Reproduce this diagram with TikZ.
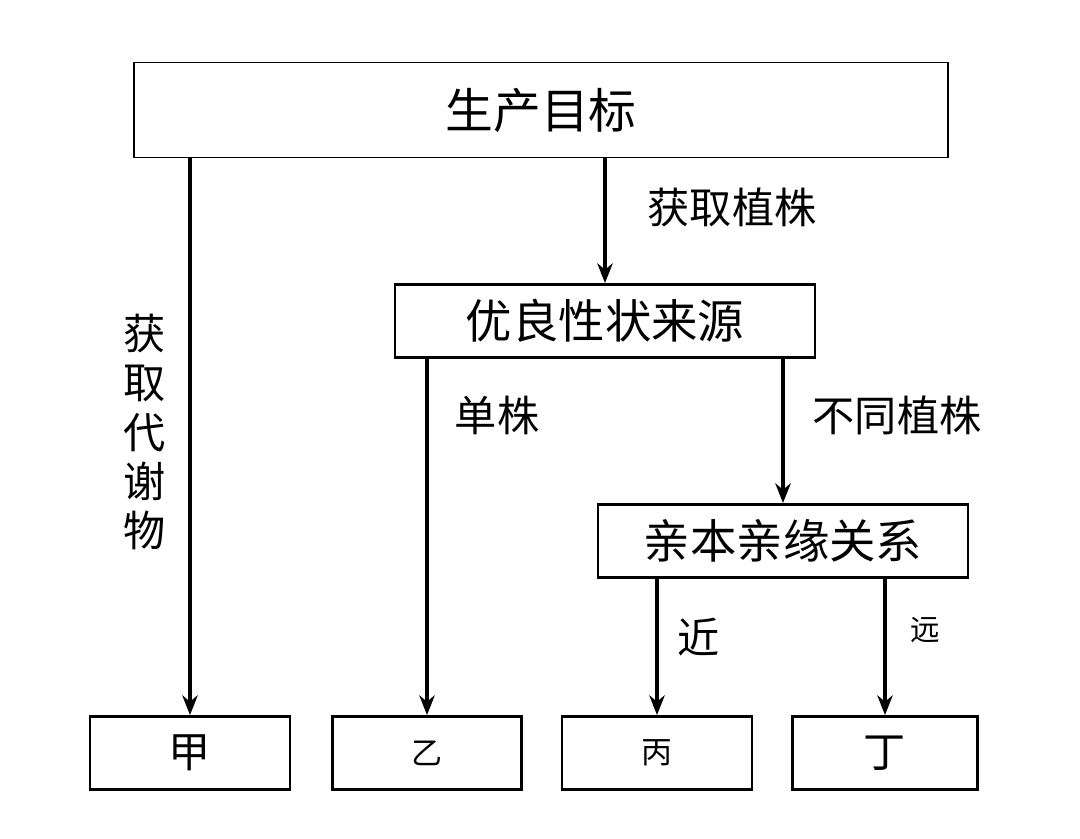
\documentclass[tikz,border=0pt]{standalone}
\usepackage{fontspec}
\setmainfont{Noto Sans CJK SC}
\usetikzlibrary{arrows.meta}

\tikzset{
  box/.style={draw, line width=2pt, inner sep=0pt, font=\fontsize{33}{36}\selectfont},
  lbl/.style={font=\fontsize{30}{35}\selectfont, inner sep=0pt},
  arr/.style={line width=2.2pt, -{Stealth[length=14pt, width=11pt]}},
}

\begin{document}
\begin{tikzpicture}[x=0.025cm, y=-0.025cm]
  \useasboundingbox (0,0) rectangle (1080,838);

  % boxes
  \node[box, line width=1.2pt, minimum width=20.33cm, minimum height=2.38cm,
        font=\fontsize{34}{36}\selectfont] (top) at (541,110) {生产目标};
  \node[box, minimum width=10.5cm, minimum height=1.83cm] (you) at (605,321) {优良性状来源};
  \node[box, minimum width=9.25cm, minimum height=1.83cm] (qin) at (783,541) {亲本亲缘关系};
  \node[box, minimum width=5cm, minimum height=1.83cm, font=\fontsize{30}{32}\selectfont] (jia) at (190,753) {甲};
  \node[box, minimum width=4.73cm, minimum height=1.83cm, font=\fontsize{22}{24}\selectfont] (yi) at (427,753) {乙};
  \node[box, minimum width=4.75cm, minimum height=1.83cm, font=\fontsize{22}{24}\selectfont] (bing) at (657,753) {丙};
  \node[box, minimum width=4.63cm, minimum height=1.83cm, font=\fontsize{30}{32}\selectfont] (ding) at (885,753) {丁};

  % labels
  \node[lbl] (l1) at (732,207) {获取植株};
  \node[lbl, align=center] (l2) at (145,432) {获\\取\\代\\谢\\物};
  \node[lbl] (l3) at (497,415) {单株};
  \node[lbl] (l4) at (897,415) {不同植株};
  \node[lbl] (l5) at (699,637) {近};
  \node[lbl, font=\fontsize{21}{24}\selectfont] (l6) at (925,630) {远};

  % arrows
  \draw[arr] (top.south -| jia.north) -- (jia.north);
  \draw[arr] (top.south -| you.north) -- (you.north);
  \draw[arr] (you.south -| yi.north) -- (yi.north);
  \draw[arr] (you.south -| qin.north) -- (qin.north);
  \draw[arr] (qin.south -| bing.north) -- (bing.north);
  \draw[arr] (qin.south -| ding.north) -- (ding.north);
\end{tikzpicture}
\end{document}
